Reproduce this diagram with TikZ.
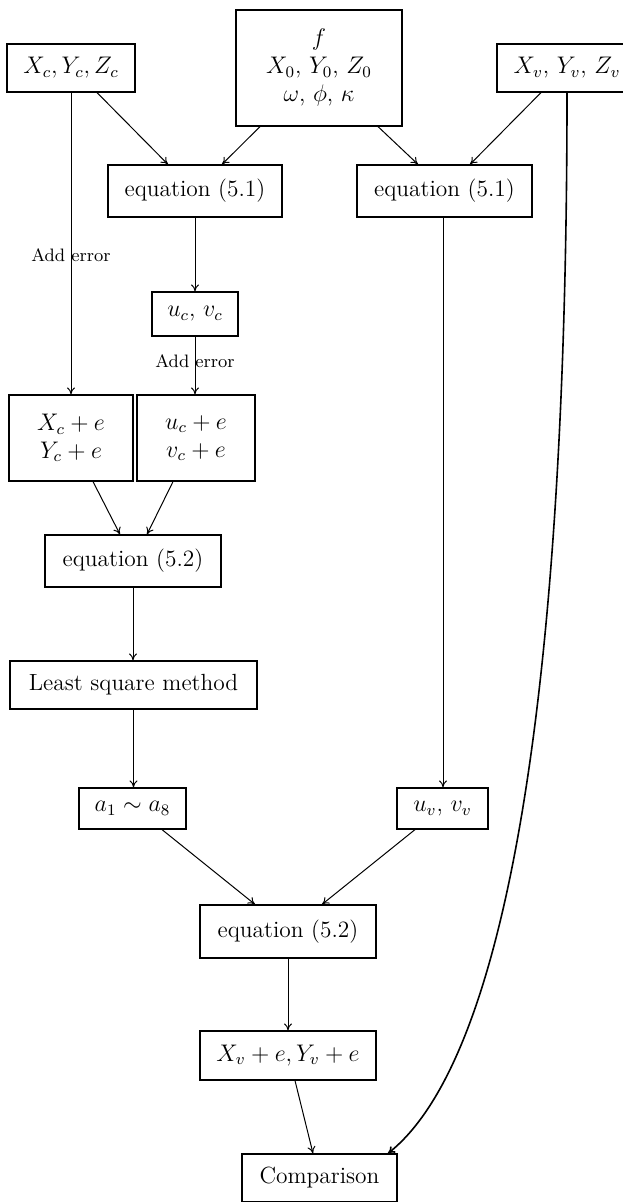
\documentclass[tikz,border=0pt]{standalone}
\usetikzlibrary{arrows.meta}
\begin{document}
\begin{tikzpicture}[x=0.5pt,y=-0.5pt,
  box/.style={draw,line width=0.6pt,inner sep=0pt,align=center,
              font=\fontsize{11.7}{14}\selectfont},
  arr/.style={line width=0.5pt,-{To[length=3.5pt,width=4pt]}},
  lbl/.style={inner sep=0pt,font=\fontsize{9}{10}\selectfont}]
\useasboundingbox (0,0) rectangle (622,1202);

% inputs
\node[box,minimum width=64pt,minimum height=24pt] (xc) at (71,68) {$X_c,Y_c,Z_c$};
\node[box,minimum width=83pt,minimum height=58pt] (fb) at (319,68)
  {$f$\\$X_0$, $Y_0$, $Z_0$\\$\omega$, $\phi$, $\kappa$};
\node[box,minimum width=70pt,minimum height=24pt] (xv) at (567,68) {$X_v$, $Y_v$, $Z_v$};

% projection
\node[box,minimum width=87pt,minimum height=26pt] (eqa) at (195,191) {equation (5.1)};
\node[box,minimum width=87.5pt,minimum height=26pt] (eqb) at (444.5,191) {equation (5.1)};
\node[box,minimum width=43pt,minimum height=22pt] (uc) at (195,314) {$u_c$, $v_c$};

% noisy control points
\node[box,minimum width=62pt,minimum height=43pt] (xce) at (71,438) {$X_c+e$\\$Y_c+e$};
\node[box,minimum width=59pt,minimum height=43pt] (uce) at (196,438) {$u_c+e$\\$v_c+e$};

% parameter estimation
\node[box,minimum width=88pt,minimum height=26pt] (eqc) at (133,561) {equation (5.2)};
\node[box,minimum width=123.5pt,minimum height=24pt] (lsm) at (133.5,685) {Least square method};
\node[box,minimum width=53.5pt,minimum height=20.5pt] (a18) at (132.5,808.5) {$a_1\sim a_8$};
\node[box,minimum width=45.5pt,minimum height=20.5pt] (uv) at (442.5,808.5) {$u_v$, $v_v$};

% reconstruction and check
\node[box,minimum width=88pt,minimum height=26.5pt] (eqd) at (288,931.5) {equation (5.2)};
\node[box,minimum width=88pt,minimum height=24.5pt] (xve) at (288,1055.5) {$X_v+e,Y_v+e$};
\node[box,minimum width=77.5pt,minimum height=24pt] (cmp) at (319.5,1178) {Comparison};

% connectors
\draw[arr] ([xshift=13pt]xc.south) -- ([xshift=-13.5pt]eqa.north);
\draw[arr] ([xshift=-29.5pt]fb.south) -- ([xshift=13.5pt]eqa.north);
\draw[arr] ([xshift=29.5pt]fb.south) -- ([xshift=-13.25pt]eqb.north);
\draw[arr] ([xshift=-13pt]xv.south) -- ([xshift=12.75pt]eqb.north);

\draw[arr] (xc.south) -- (xc.south |- xce.north);
\node[lbl] (ae1) at (71,255) {Add error};
\draw[arr] (eqa.south) -- (uc.north);
\draw[arr] (uc.south) -- (uc.south |- uce.north);
\node[lbl] (ae2) at (195,361) {Add error};

\draw[arr] ([xshift=11pt]xce.south) -- ([xshift=-6.5pt]eqc.north);
\draw[arr] ([xshift=-11.5pt]uce.south) -- ([xshift=7pt]eqc.north);
\draw[arr] (eqc.south) -- (eqc.south |- lsm.north);
\draw[arr] (lsm.south) -- (lsm.south |- a18.north);
\draw[arr] ([xshift=-0.75pt]eqb.south) -- ([xshift=-0.75pt]eqb.south |- uv.north);

\draw[arr] ([xshift=14.75pt]a18.south) -- ([xshift=-16.5pt]eqd.north);
\draw[arr] ([xshift=-13.75pt]uv.south) -- ([xshift=17pt]eqd.north);
\draw[arr] (eqd.south) -- (xve.north);
\draw[arr] ([xshift=3.5pt]xve.south) -- ([xshift=-3.25pt]cmp.north);
\draw[arr,line width=0.8pt] (xv.south) .. controls (567,700) and (505,1060) .. ([xshift=34.25pt]cmp.north);
\end{tikzpicture}
\end{document}
